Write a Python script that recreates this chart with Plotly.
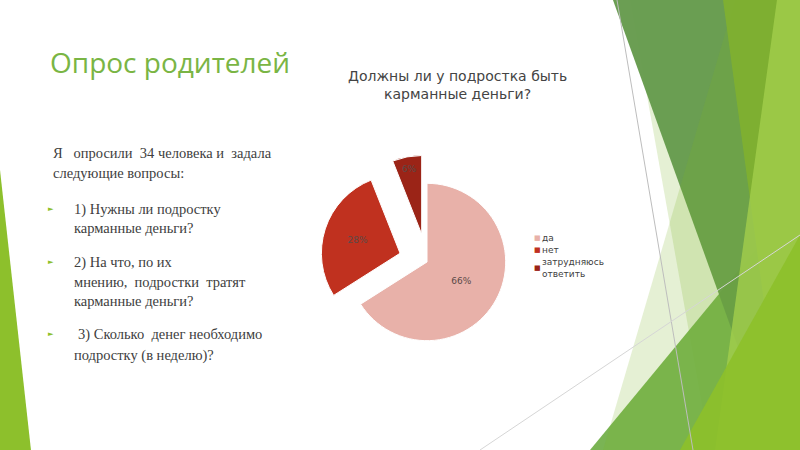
import plotly.graph_objects as go

# survey data
answers = ["да", "нет", "затрудняюсь<br>ответить"]
shares = [66, 28, 6]
slice_colors = ["#E8B1A9", "#C0311F", "#9B2417"]
pulls = [0, 0.36, 0.36]

W, H = 800, 450


def px(x):
    return x / W


def py(y):
    return 1 - y / H


def poly(points):
    d = "M " + " L ".join(f"{px(x):.4f},{py(y):.4f}" for x, y in points) + " Z"
    return d


fig = go.Figure()

fig.add_trace(go.Pie(
    labels=answers,
    values=shares,
    sort=False,
    direction="clockwise",
    rotation=0,
    pull=pulls,
    marker=dict(colors=slice_colors, line=dict(color="white", width=1)),
    texttemplate="%{percent:.0%}",
    textposition="inside",
    insidetextorientation="horizontal",
    textfont=dict(family="DejaVu Sans", size=9, color="#5a4a48"),
    domain=dict(x=[px(320), px(534)], y=[py(369), py(155)]),
    hoverinfo="label+percent",
    showlegend=False,
))

# decorative background of the slide (Facet-like facets)
shapes = []
# left edge sliver
shapes.append(dict(type="path", path=poly([(0, 170), (31, 450), (0, 450)]),
                   fillcolor="#8DC02C", line=dict(width=0)))
# pale facet under the dark wedge
shapes.append(dict(type="path", path=poly([(630, 0), (800, 0), (800, 450), (710, 450)]),
                   fillcolor="#7BB52A", opacity=0.2, line=dict(width=0)))
# mid green lower triangle
shapes.append(dict(type="path", path=poly([(590, 450), (800, 196), (800, 450)]),
                   fillcolor="#6FAE45", opacity=0.92, line=dict(width=0)))
# dark green wedge
shapes.append(dict(type="path", path=poly([(613, 0), (800, 0), (800, 450), (775, 450)]),
                   fillcolor="#659A4C", opacity=0.96, line=dict(width=0)))
# pale facet over the dark wedge
shapes.append(dict(type="path", path=poly([(735, 0), (800, 0), (800, 450), (603, 450)]),
                   fillcolor="#7BB52A", opacity=0.2, line=dict(width=0)))
# yellow-green wedge
shapes.append(dict(type="path", path=poly([(723, 0), (800, 0), (800, 450), (784, 450)]),
                   fillcolor="#80B030", opacity=0.95, line=dict(width=0)))
# lighter green wedge
shapes.append(dict(type="path", path=poly([(777, 0), (800, 0), (800, 450), (715, 450)]),
                   fillcolor="#A3CE4C", opacity=0.8, line=dict(width=0)))
# bright bottom right
shapes.append(dict(type="path", path=poly([(680, 450), (800, 235), (800, 450)]),
                   fillcolor="#8DC02A", opacity=0.9, line=dict(width=0)))
# thin lines
shapes.append(dict(type="line", x0=px(617), y0=py(0), x1=px(693), y1=py(450),
                   line=dict(color="#BDBDBD", width=1)))
shapes.append(dict(type="line", x0=px(480), y0=py(450), x1=px(800), y1=py(235),
                   line=dict(color="#D6D6D6", width=1)))
for s in shapes:
    s["xref"] = "paper"
    s["yref"] = "paper"
    s["layer"] = "below"

annotations = []
# slide title
annotations.append(dict(x=px(48), y=py(62), text="Опрос родителей",
                        font=dict(family="Open Sans", size=28, color="#7AB544"),
                        xanchor="left", yanchor="middle"))
# chart title
annotations.append(dict(x=px(457), y=py(85), text="Должны ли у подростка быть<br>карманные деньги?",
                        font=dict(family="DejaVu Sans", size=14, color="#444444"),
                        xanchor="center", yanchor="middle", align="center"))

body_font = dict(family="Liberation Serif", size=14.5, color="#404040")
body_lines = [
    (51, 153, "Я   опросили  34 человека и  задала"),
    (51, 173, "следующие вопросы:"),
    (72, 209, "1) Нужны ли подростку"),
    (72, 228, "карманные деньги?"),
    (72, 262, "2) На что, по их"),
    (72, 282, "мнению,  подростки  тратят"),
    (72, 301, "карманные деньги?"),
    (76, 334, "3) Сколько  денег необходимо"),
    (72, 355, "подростку (в неделю)?"),
]
for x, y, t in body_lines:
    annotations.append(dict(x=px(x), y=py(y), text=t, font=body_font,
                            xanchor="left", yanchor="middle"))
for y in [209, 262, 334]:
    annotations.append(dict(x=px(46), y=py(y), text="►",
                            font=dict(family="DejaVu Sans", size=7, color="#8DC02A"),
                            xanchor="left", yanchor="middle"))

# legend beside the pie
legend_y = [238, 250, 268]
for label, color, y in zip(answers, slice_colors, legend_y):
    annotations.append(dict(x=px(532), y=py(y), text="■",
                            font=dict(family="DejaVu Sans", size=7, color=color),
                            xanchor="left", yanchor="middle"))
    annotations.append(dict(x=px(540), y=py(y), text=label, align="left",
                            font=dict(family="DejaVu Sans", size=9, color="#404040"),
                            xanchor="left", yanchor="middle"))

for a in annotations:
    a["xref"] = "paper"
    a["yref"] = "paper"
    a["showarrow"] = False

fig.update_layout(
    width=W, height=H,
    margin=dict(l=0, r=0, t=0, b=0),
    paper_bgcolor="white",
    plot_bgcolor="white",
    shapes=shapes,
    annotations=annotations,
    showlegend=False,
)

fig.write_html("out.html", config={"displayModeBar": False},
               post_script="document.body.style.margin='0';")
